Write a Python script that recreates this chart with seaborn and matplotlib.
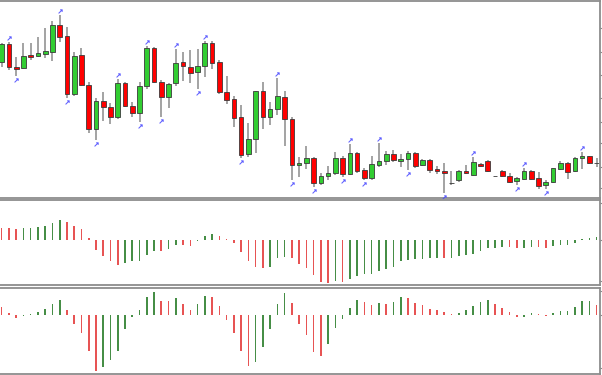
import numpy as np
import pandas as pd
import matplotlib
matplotlib.use("Agg")
import matplotlib.pyplot as plt
import seaborn as sns

# candles, oldest first (price units)
opens = [138, 156, 133, 132, 145, 144, 146, 148, 175, 164, 106, 145, 115, 71, 99, 93, 83, 117, 94, 87,
         114, 152, 118, 103, 117, 138, 133, 128, 134, 157, 138, 108, 101, 83, 46, 61, 109, 83, 91, 103,
         81, 35, 37, 42, 17, 24, 27, 42, 26, 47, 30, 22, 35, 39, 46, 39, 41, 47, 35, 40,
         31, 29, 17, 20, 29, 25, 36, 39, 24, 29, 24, 19, 21, 29, 22, 15, 18, 31, 37, 29,
         42, 44, 37]
highs = [157, 158, 143, 157, 157, 163, 172, 179, 185, 173, 148, 152, 118, 102, 108, 97, 121, 118, 98, 118,
         154, 153, 120, 117, 151, 148, 150, 151, 159, 159, 140, 124, 104, 95, 77, 109, 118, 98, 122, 109,
         83, 43, 54, 43, 27, 34, 48, 44, 56, 48, 32, 44, 57, 49, 50, 46, 49, 48, 41, 41,
         34, 37, 29, 30, 35, 43, 37, 40, 24, 30, 27, 23, 32, 30, 28, 20, 32, 39, 38, 43,
         48, 44, 42]
lows = [133, 130, 124, 131, 140, 143, 142, 139, 158, 102, 104, 114, 67, 60, 79, 76, 81, 93, 83, 78,
        111, 117, 83, 92, 114, 119, 117, 111, 123, 131, 106, 96, 73, 42, 43, 47, 71, 75, 85, 54,
        20, 23, 31, 13, 15, 20, 25, 23, 25, 27, 20, 20, 33, 35, 38, 33, 30, 32, 34, 27,
        26, 7, 15, 18, 26, 24.5, 33, 28, 24, 23, 17, 15, 20.5, 20, 11, 11, 17, 30, 21, 28,
        31, 36, 33]
closes = [156, 133, 131, 144, 143, 147, 149, 175, 163, 106, 144, 115, 71, 99, 93, 83, 117, 94, 87, 114,
          152, 118, 103, 116, 137, 134, 127, 134, 157, 137, 108, 100, 82, 45, 61, 109, 83, 91, 104, 81,
          35, 37, 42, 17, 24, 27, 42, 26, 47, 29, 22, 36, 39, 46, 40, 41, 47, 34, 40, 30,
          29, 27, 17, 29, 27, 38, 34, 29, 24, 24, 18, 22, 29, 21, 14, 18, 32, 37, 28, 42,
          44, 37, 37]

# fractal arrows (candle numbers, 0 = first candle)
frac_up = [1, 8, 16, 20, 24, 28, 38, 48, 52, 65, 72, 80]
frac_dn = [2, 9, 13, 19, 22, 27, 33, 40, 43, 47, 50, 56, 61, 71, 75]

# first oscillator window
osc1 = [12.7, 12.0, 11.3, 12.0, 12.3, 13.0, 14.0, 17.3, 20.0, 18.3, 14.7, 11.0, 2.7, -9.3, -15.7, -20.7,
        -24.3, -22.3, -21.0, -20.7, -15.0, -10.7, -11.0, -8.3, -4.3, -4.7, -5.3, -1.0, 4.0, 6.0, 4.7, 1.7,
        -2.7, -11.7, -20.7, -26.3, -27.3, -26.7, -17.3, -16.3, -17.7, -24.0, -27.3, -35.0, -41.7, -42.7,
        -41.0, -41.3, -39.0, -35.3, -34.0, -33.7, -31.0, -29.0, -26.7, -20.3, -20.0, -19.0, -18.3, -18.0,
        -17.3, -17.6, -17.2, -16.0, -15.0, -13.3, -10.7, -7.7, -7.3, -6.7, -6.9, -7.7, -7.3, -6.7, -6.9,
        -7.7, -5.7, -5.0, -4.8, -2.7, 1.0, 2.7, 3.3]

# second oscillator window
osc2 = [8.7, 2.0, -2.3, -1.0, 1.3, 3.3, 6.0, 11.7, 15.7, 5.7, -8.3, -17.7, -36.0, -55.3, -52.0, -44.7,
        -36.0, -13.7, -1.3, 5.3, 18.0, 23.3, 14.7, 14.0, 17.3, 11.0, 5.3, 11.7, 19.3, 18.7, 9.3, -4.3,
        -18.0, -35.3, -50.3, -46.3, -31.3, -13.7, 11.3, 22.7, 12.7, -8.7, -20.0, -36.3, -40.3, -28.7,
        -12.3, -4.0, 7.0, 15.0, 13.3, 10.3, 12.7, 11.3, 13.7, 18.0, 17.3, 12.7, 10.0, 6.7, 5.7, 3.3,
        1.3, 2.3, 5.0, 9.0, 13.3, 15.3, 11.0, 7.7, 3.0, -2.0, -1.3, 2.3, 1.3, -0.5, 2.3, 4.3, 4.5,
        8.3, 14.3, 14.5, 10.0]

price_ticks = [12, 33, 57, 78, 102, 125, 148, 172]
osc1_ticks = [-41, 0, 37]
osc2_ticks = [-53, 0, 24]

sns.set_theme(style="white")
plt.rcParams['font.family'] = ['DejaVu Sans']

W, H = 602, 375
fig = plt.figure(figsize=(W / 100, H / 100), dpi=100)
fig.patch.set_facecolor('white')
ax1 = fig.add_axes([0, 177 / H, 599.5 / W, 197 / H])
ax2 = fig.add_axes([0, 90 / H, 599.5 / W, 85.5 / H])
ax3 = fig.add_axes([0, 1 / H, 599.5 / W, 86.5 / H])

# --- candlesticks
n = len(opens)
idx = np.arange(n)
o = np.array(opens, dtype=float)
c = np.array(closes, dtype=float)
hi = np.array(highs, dtype=float)
lo = np.array(lows, dtype=float)
bull = c >= o
ax1.vlines(idx, lo, hi, color='#8a8a8a', lw=1.1, zorder=1)
ax1.bar(idx, c - o, bottom=o, width=0.64,
        color=np.where(bull, '#32cd32', '#ff0000'),
        edgecolor='#3a3a3a', linewidth=0.6, zorder=2)

# small blue fractal arrows
ax1.scatter(frac_up, hi[frac_up] + 4, marker=r'$\nearrow$', s=8, color='#4a4aff',
            linewidths=0.2, zorder=3)
ax1.scatter(frac_dn, lo[frac_dn] - 3.5, marker=r'$\nearrow$', s=8, color='#4a4aff',
            linewidths=0.2, zorder=3)
ax1.set_ylim(2, 199)
ax1.set_yticks(price_ticks)

# --- oscillators, coloured by rise / fall against previous bar
pal = {'up': '#3a9a3a', 'down': '#ff3c3c'}
for ax, vals, lim, ticks in ((ax2, osc1, (-44.7, 40.8), osc1_ticks),
                             (ax3, osc2, (-58.7, 27.8), osc2_ticks)):
    df = pd.DataFrame({'bar': idx, 'value': vals})
    df['dir'] = np.where(df['value'].diff() > 0, 'up', 'down')
    sns.barplot(data=df, x='bar', y='value', hue='dir', palette=pal, dodge=False,
                width=0.22, linewidth=0, errorbar=None, legend=False, ax=ax)
    ax.set_ylim(*lim)
    ax.set_yticks(ticks)

for ax in (ax1, ax2, ax3):
    ax.set_xlim(-0.23, 82.4)
    ax.set_xticks([])
    ax.set_xlabel('')
    ax.set_ylabel('')
    ax.set_facecolor('white')
    ax.yaxis.tick_right()
    ax.tick_params(axis='y', right=True, left=False, length=3, width=0.8,
                   color='#8c8c8c', labelright=False, labelleft=False, direction='out')
    ax.spines['left'].set_visible(False)
    for s in ('top', 'right', 'bottom'):
        ax.spines[s].set_visible(True)
        ax.spines[s].set_color('#8c8c8c')
        ax.spines[s].set_linewidth(1.3)

fig.savefig('out.png', dpi=100)
